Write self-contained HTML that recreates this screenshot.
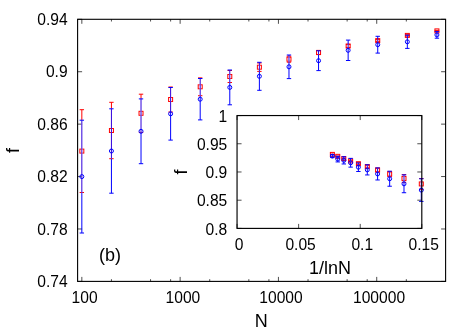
<!DOCTYPE html>
<html><head><meta charset="utf-8"><title>chart</title>
<style>html,body{margin:0;padding:0;background:#fff}svg{display:block;will-change:transform}text{font-family:"Liberation Sans",sans-serif;fill:#000}</style>
</head><body>
<svg width="474" height="332" viewBox="0 0 474 332">
<rect width="474" height="332" fill="#fff"/>
<rect x="77.6" y="19.3" width="368.00" height="262.10" fill="none" stroke="#000" stroke-width="1.1"/>
<path d="M81.84 281.4v-4.5M81.84 19.3v4.5M111.43 281.4v-2.2M111.43 19.3v2.2M150.55 281.4v-2.2M150.55 19.3v2.2M170.61 281.4v-2.2M170.61 19.3v2.2M180.14 281.4v-4.5M180.14 19.3v4.5M209.73 281.4v-2.2M209.73 19.3v2.2M248.84 281.4v-2.2M248.84 19.3v2.2M268.91 281.4v-2.2M268.91 19.3v2.2M278.43 281.4v-4.5M278.43 19.3v4.5M308.02 281.4v-2.2M308.02 19.3v2.2M347.14 281.4v-2.2M347.14 19.3v2.2M367.20 281.4v-2.2M367.20 19.3v2.2M376.73 281.4v-4.5M376.73 19.3v4.5M406.32 281.4v-2.2M406.32 19.3v2.2M77.6 281.40h4.5M445.6 281.40h-4.5M77.6 228.98h4.5M445.6 228.98h-4.5M77.6 176.56h4.5M445.6 176.56h-4.5M77.6 124.14h4.5M445.6 124.14h-4.5M77.6 71.72h4.5M445.6 71.72h-4.5M77.6 19.30h4.5M445.6 19.30h-4.5" stroke="#000" stroke-width="0.7" fill="none"/>
<rect x="237.05" y="115.55" width="184.75" height="112.85" fill="#fff" stroke="none"/>
<path d="M237.05 228.4v-4.5M237.05 115.55v4.5M298.63 228.4v-4.5M298.63 115.55v4.5M360.22 228.4v-4.5M360.22 115.55v4.5M421.80 228.4v-4.5M421.80 115.55v4.5M237.05 228.40h4.5M421.8 228.40h-4.5M237.05 200.19h4.5M421.8 200.19h-4.5M237.05 171.97h4.5M421.8 171.97h-4.5M237.05 143.76h4.5M421.8 143.76h-4.5M237.05 115.55h4.5M421.8 115.55h-4.5" stroke="#000" stroke-width="0.7" fill="none"/>
<path d="M81.84 109.70V120.20" stroke="#ff0000" stroke-width="1.0" fill="none"/><path d="M79.64 109.70h4.40" stroke="#ff0000" stroke-width="1.0" fill="none"/><path d="M79.64 192.50h4.40" stroke="#ff0000" stroke-width="1.0" fill="none"/><rect x="79.84" y="149.10" width="4.00" height="4.00" stroke="#ff0000" stroke-width="1" fill="none"/><path d="M81.84 120.20V192.50" stroke="#fff" stroke-width="1.0" fill="none"/><path d="M81.84 120.20V192.50" stroke="#3000dc" stroke-width="1.0" fill="none"/><path d="M81.84 192.50V233.00" stroke="#0000ff" stroke-width="1.0" fill="none"/><path d="M79.64 120.20h4.40" stroke="#0000ff" stroke-width="1.0" fill="none"/><path d="M79.64 233.00h4.40" stroke="#0000ff" stroke-width="1.0" fill="none"/><circle cx="81.84" cy="176.60" r="2.0" stroke="#0000ff" stroke-width="1" fill="none"/>
<path d="M111.43 102.30V108.80" stroke="#ff0000" stroke-width="1.0" fill="none"/><path d="M109.23 102.30h4.40" stroke="#ff0000" stroke-width="1.0" fill="none"/><path d="M109.23 158.70h4.40" stroke="#ff0000" stroke-width="1.0" fill="none"/><rect x="109.43" y="128.50" width="4.00" height="4.00" stroke="#ff0000" stroke-width="1" fill="none"/><path d="M111.43 108.80V158.70" stroke="#fff" stroke-width="1.0" fill="none"/><path d="M111.43 108.80V158.70" stroke="#3000dc" stroke-width="1.0" fill="none"/><path d="M111.43 158.70V193.20" stroke="#0000ff" stroke-width="1.0" fill="none"/><path d="M109.23 108.80h4.40" stroke="#0000ff" stroke-width="1.0" fill="none"/><path d="M109.23 193.20h4.40" stroke="#0000ff" stroke-width="1.0" fill="none"/><circle cx="111.43" cy="151.00" r="2.0" stroke="#0000ff" stroke-width="1" fill="none"/>
<path d="M141.02 94.20V98.90" stroke="#ff0000" stroke-width="1.0" fill="none"/><path d="M138.82 94.20h4.40" stroke="#ff0000" stroke-width="1.0" fill="none"/><path d="M138.82 132.40h4.40" stroke="#ff0000" stroke-width="1.0" fill="none"/><rect x="139.02" y="111.30" width="4.00" height="4.00" stroke="#ff0000" stroke-width="1" fill="none"/><path d="M141.02 98.90V132.40" stroke="#fff" stroke-width="1.0" fill="none"/><path d="M141.02 98.90V132.40" stroke="#3000dc" stroke-width="1.0" fill="none"/><path d="M141.02 132.40V163.70" stroke="#0000ff" stroke-width="1.0" fill="none"/><path d="M138.82 98.90h4.40" stroke="#0000ff" stroke-width="1.0" fill="none"/><path d="M138.82 163.70h4.40" stroke="#0000ff" stroke-width="1.0" fill="none"/><circle cx="141.02" cy="131.30" r="2.0" stroke="#0000ff" stroke-width="1" fill="none"/>
<path d="M170.61 87.00V87.50" stroke="#ff0000" stroke-width="1.0" fill="none"/><path d="M168.41 87.00h4.40" stroke="#ff0000" stroke-width="1.0" fill="none"/><path d="M168.41 112.00h4.40" stroke="#ff0000" stroke-width="1.0" fill="none"/><rect x="168.61" y="97.50" width="4.00" height="4.00" stroke="#ff0000" stroke-width="1" fill="none"/><path d="M170.61 87.50V112.00" stroke="#fff" stroke-width="1.0" fill="none"/><path d="M170.61 87.50V112.00" stroke="#3000dc" stroke-width="1.0" fill="none"/><path d="M170.61 112.00V140.10" stroke="#0000ff" stroke-width="1.0" fill="none"/><path d="M168.41 87.50h4.40" stroke="#0000ff" stroke-width="1.0" fill="none"/><path d="M168.41 140.10h4.40" stroke="#0000ff" stroke-width="1.0" fill="none"/><circle cx="170.61" cy="113.80" r="2.0" stroke="#0000ff" stroke-width="1" fill="none"/>
<path d="M200.20 77.90V78.50" stroke="#ff0000" stroke-width="1.0" fill="none"/><path d="M198.00 77.90h4.40" stroke="#ff0000" stroke-width="1.0" fill="none"/><path d="M198.00 95.70h4.40" stroke="#ff0000" stroke-width="1.0" fill="none"/><rect x="198.20" y="84.80" width="4.00" height="4.00" stroke="#ff0000" stroke-width="1" fill="none"/><path d="M200.20 78.50V95.70" stroke="#fff" stroke-width="1.0" fill="none"/><path d="M200.20 78.50V95.70" stroke="#3000dc" stroke-width="1.0" fill="none"/><path d="M200.20 95.70V119.90" stroke="#0000ff" stroke-width="1.0" fill="none"/><path d="M198.00 78.50h4.40" stroke="#0000ff" stroke-width="1.0" fill="none"/><path d="M198.00 119.90h4.40" stroke="#0000ff" stroke-width="1.0" fill="none"/><circle cx="200.20" cy="99.20" r="2.0" stroke="#0000ff" stroke-width="1" fill="none"/>
<path d="M227.59 70.50h4.40" stroke="#ff0000" stroke-width="1.0" fill="none"/><path d="M227.59 82.50h4.40" stroke="#ff0000" stroke-width="1.0" fill="none"/><rect x="227.79" y="74.50" width="4.00" height="4.00" stroke="#ff0000" stroke-width="1" fill="none"/><path d="M229.79 70.50V82.50" stroke="#fff" stroke-width="1.0" fill="none"/><path d="M229.79 70.50V82.50" stroke="#3000dc" stroke-width="1.0" fill="none"/><path d="M229.79 70.00V70.50" stroke="#0000ff" stroke-width="1.0" fill="none"/><path d="M229.79 82.50V104.80" stroke="#0000ff" stroke-width="1.0" fill="none"/><path d="M227.59 70.00h4.40" stroke="#0000ff" stroke-width="1.0" fill="none"/><path d="M227.59 104.80h4.40" stroke="#0000ff" stroke-width="1.0" fill="none"/><circle cx="229.79" cy="87.40" r="2.0" stroke="#0000ff" stroke-width="1" fill="none"/>
<path d="M257.18 63.00h4.40" stroke="#ff0000" stroke-width="1.0" fill="none"/><path d="M257.18 71.40h4.40" stroke="#ff0000" stroke-width="1.0" fill="none"/><rect x="257.38" y="65.20" width="4.00" height="4.00" stroke="#ff0000" stroke-width="1" fill="none"/><path d="M259.38 63.00V71.40" stroke="#fff" stroke-width="1.0" fill="none"/><path d="M259.38 63.00V71.40" stroke="#3000dc" stroke-width="1.0" fill="none"/><path d="M259.38 62.30V63.00" stroke="#0000ff" stroke-width="1.0" fill="none"/><path d="M259.38 71.40V90.30" stroke="#0000ff" stroke-width="1.0" fill="none"/><path d="M257.18 62.30h4.40" stroke="#0000ff" stroke-width="1.0" fill="none"/><path d="M257.18 90.30h4.40" stroke="#0000ff" stroke-width="1.0" fill="none"/><circle cx="259.38" cy="76.30" r="2.0" stroke="#0000ff" stroke-width="1" fill="none"/>
<path d="M286.77 56.20h4.40" stroke="#ff0000" stroke-width="1.0" fill="none"/><path d="M286.77 62.20h4.40" stroke="#ff0000" stroke-width="1.0" fill="none"/><rect x="286.97" y="57.20" width="4.00" height="4.00" stroke="#ff0000" stroke-width="1" fill="none"/><path d="M288.97 56.20V62.20" stroke="#fff" stroke-width="1.0" fill="none"/><path d="M288.97 56.20V62.20" stroke="#3000dc" stroke-width="1.0" fill="none"/><path d="M288.97 55.00V56.20" stroke="#0000ff" stroke-width="1.0" fill="none"/><path d="M288.97 62.20V78.60" stroke="#0000ff" stroke-width="1.0" fill="none"/><path d="M286.77 55.00h4.40" stroke="#0000ff" stroke-width="1.0" fill="none"/><path d="M286.77 78.60h4.40" stroke="#0000ff" stroke-width="1.0" fill="none"/><circle cx="288.97" cy="66.80" r="2.0" stroke="#0000ff" stroke-width="1" fill="none"/>
<path d="M318.56 50.40V50.80" stroke="#ff0000" stroke-width="1.0" fill="none"/><path d="M316.36 50.40h4.40" stroke="#ff0000" stroke-width="1.0" fill="none"/><path d="M316.36 54.60h4.40" stroke="#ff0000" stroke-width="1.0" fill="none"/><rect x="316.56" y="50.50" width="4.00" height="4.00" stroke="#ff0000" stroke-width="1" fill="none"/><path d="M318.56 50.80V54.60" stroke="#fff" stroke-width="1.0" fill="none"/><path d="M318.56 50.80V54.60" stroke="#3000dc" stroke-width="1.0" fill="none"/><path d="M318.56 54.60V70.60" stroke="#0000ff" stroke-width="1.0" fill="none"/><path d="M316.36 50.80h4.40" stroke="#0000ff" stroke-width="1.0" fill="none"/><path d="M316.36 70.60h4.40" stroke="#0000ff" stroke-width="1.0" fill="none"/><circle cx="318.56" cy="60.70" r="2.0" stroke="#0000ff" stroke-width="1" fill="none"/>
<path d="M345.95 44.50h4.40" stroke="#ff0000" stroke-width="1.0" fill="none"/><path d="M345.95 47.50h4.40" stroke="#ff0000" stroke-width="1.0" fill="none"/><rect x="346.15" y="44.00" width="4.00" height="4.00" stroke="#ff0000" stroke-width="1" fill="none"/><path d="M348.15 44.50V47.50" stroke="#fff" stroke-width="1.0" fill="none"/><path d="M348.15 44.50V47.50" stroke="#3000dc" stroke-width="1.0" fill="none"/><path d="M348.15 40.10V44.50" stroke="#0000ff" stroke-width="1.0" fill="none"/><path d="M348.15 47.50V60.50" stroke="#0000ff" stroke-width="1.0" fill="none"/><path d="M345.95 40.10h4.40" stroke="#0000ff" stroke-width="1.0" fill="none"/><path d="M345.95 60.50h4.40" stroke="#0000ff" stroke-width="1.0" fill="none"/><circle cx="348.15" cy="50.30" r="2.0" stroke="#0000ff" stroke-width="1" fill="none"/>
<path d="M375.54 39.60h4.40" stroke="#ff0000" stroke-width="1.0" fill="none"/><path d="M375.54 41.60h4.40" stroke="#ff0000" stroke-width="1.0" fill="none"/><rect x="375.74" y="38.60" width="4.00" height="4.00" stroke="#ff0000" stroke-width="1" fill="none"/><path d="M377.74 39.60V41.60" stroke="#fff" stroke-width="1.0" fill="none"/><path d="M377.74 39.60V41.60" stroke="#3000dc" stroke-width="1.0" fill="none"/><path d="M377.74 36.30V39.60" stroke="#0000ff" stroke-width="1.0" fill="none"/><path d="M377.74 41.60V53.10" stroke="#0000ff" stroke-width="1.0" fill="none"/><path d="M375.54 36.30h4.40" stroke="#0000ff" stroke-width="1.0" fill="none"/><path d="M375.54 53.10h4.40" stroke="#0000ff" stroke-width="1.0" fill="none"/><circle cx="377.74" cy="44.70" r="2.0" stroke="#0000ff" stroke-width="1" fill="none"/>
<path d="M407.33 34.70V35.20" stroke="#ff0000" stroke-width="1.0" fill="none"/><path d="M405.13 34.70h4.40" stroke="#ff0000" stroke-width="1.0" fill="none"/><path d="M405.13 36.10h4.40" stroke="#ff0000" stroke-width="1.0" fill="none"/><rect x="405.33" y="33.40" width="4.00" height="4.00" stroke="#ff0000" stroke-width="1" fill="none"/><path d="M407.33 35.20V36.10" stroke="#fff" stroke-width="1.0" fill="none"/><path d="M407.33 35.20V36.10" stroke="#3000dc" stroke-width="1.0" fill="none"/><path d="M407.33 36.10V48.40" stroke="#0000ff" stroke-width="1.0" fill="none"/><path d="M405.13 35.20h4.40" stroke="#0000ff" stroke-width="1.0" fill="none"/><path d="M405.13 48.40h4.40" stroke="#0000ff" stroke-width="1.0" fill="none"/><circle cx="407.33" cy="41.80" r="2.0" stroke="#0000ff" stroke-width="1" fill="none"/>
<path d="M436.92 30.40V31.40" stroke="#ff0000" stroke-width="1.0" fill="none"/><path d="M434.72 30.40h4.40" stroke="#ff0000" stroke-width="1.0" fill="none"/><path d="M434.72 31.40h4.40" stroke="#ff0000" stroke-width="1.0" fill="none"/><rect x="434.92" y="28.90" width="4.00" height="4.00" stroke="#ff0000" stroke-width="1" fill="none"/><path d="M436.92 31.60V38.20" stroke="#0000ff" stroke-width="1.0" fill="none"/><path d="M434.72 31.60h4.40" stroke="#0000ff" stroke-width="1.0" fill="none"/><path d="M434.72 38.20h4.40" stroke="#0000ff" stroke-width="1.0" fill="none"/><circle cx="436.92" cy="34.90" r="2.0" stroke="#0000ff" stroke-width="1" fill="none"/>
<path d="M421.30 178.55V178.77" stroke="#ff0000" stroke-width="1.0" fill="none"/><path d="M419.10 178.55h4.40" stroke="#ff0000" stroke-width="1.0" fill="none"/><path d="M419.10 189.32h4.40" stroke="#ff0000" stroke-width="1.0" fill="none"/><rect x="419.30" y="181.94" width="4.00" height="4.00" stroke="#ff0000" stroke-width="1" fill="none"/><path d="M421.30 178.77V189.32" stroke="#fff" stroke-width="1.0" fill="none"/><path d="M421.30 178.77V189.32" stroke="#3000dc" stroke-width="1.0" fill="none"/><path d="M421.30 189.32V201.42" stroke="#0000ff" stroke-width="1.0" fill="none"/><path d="M419.10 178.77h4.40" stroke="#0000ff" stroke-width="1.0" fill="none"/><path d="M419.10 201.42h4.40" stroke="#0000ff" stroke-width="1.0" fill="none"/><circle cx="421.30" cy="190.09" r="2.0" stroke="#0000ff" stroke-width="1" fill="none"/>
<path d="M403.99 174.64V174.89" stroke="#ff0000" stroke-width="1.0" fill="none"/><path d="M401.79 174.64h4.40" stroke="#ff0000" stroke-width="1.0" fill="none"/><path d="M401.79 182.30h4.40" stroke="#ff0000" stroke-width="1.0" fill="none"/><rect x="401.99" y="176.47" width="4.00" height="4.00" stroke="#ff0000" stroke-width="1" fill="none"/><path d="M403.99 174.89V182.30" stroke="#fff" stroke-width="1.0" fill="none"/><path d="M403.99 174.89V182.30" stroke="#3000dc" stroke-width="1.0" fill="none"/><path d="M403.99 182.30V192.72" stroke="#0000ff" stroke-width="1.0" fill="none"/><path d="M401.79 174.89h4.40" stroke="#0000ff" stroke-width="1.0" fill="none"/><path d="M401.79 192.72h4.40" stroke="#0000ff" stroke-width="1.0" fill="none"/><circle cx="403.99" cy="183.81" r="2.0" stroke="#0000ff" stroke-width="1" fill="none"/>
<path d="M387.46 171.45h4.40" stroke="#ff0000" stroke-width="1.0" fill="none"/><path d="M387.46 176.62h4.40" stroke="#ff0000" stroke-width="1.0" fill="none"/><rect x="387.66" y="172.03" width="4.00" height="4.00" stroke="#ff0000" stroke-width="1" fill="none"/><path d="M389.66 171.45V176.62" stroke="#fff" stroke-width="1.0" fill="none"/><path d="M389.66 171.45V176.62" stroke="#3000dc" stroke-width="1.0" fill="none"/><path d="M389.66 171.23V171.45" stroke="#0000ff" stroke-width="1.0" fill="none"/><path d="M389.66 176.62V186.22" stroke="#0000ff" stroke-width="1.0" fill="none"/><path d="M387.46 171.23h4.40" stroke="#0000ff" stroke-width="1.0" fill="none"/><path d="M387.46 186.22h4.40" stroke="#0000ff" stroke-width="1.0" fill="none"/><circle cx="389.66" cy="178.73" r="2.0" stroke="#0000ff" stroke-width="1" fill="none"/>
<path d="M375.39 168.22h4.40" stroke="#ff0000" stroke-width="1.0" fill="none"/><path d="M375.39 171.84h4.40" stroke="#ff0000" stroke-width="1.0" fill="none"/><rect x="375.59" y="168.03" width="4.00" height="4.00" stroke="#ff0000" stroke-width="1" fill="none"/><path d="M377.59 168.22V171.84" stroke="#fff" stroke-width="1.0" fill="none"/><path d="M377.59 168.22V171.84" stroke="#3000dc" stroke-width="1.0" fill="none"/><path d="M377.59 167.92V168.22" stroke="#0000ff" stroke-width="1.0" fill="none"/><path d="M377.59 171.84V179.97" stroke="#0000ff" stroke-width="1.0" fill="none"/><path d="M375.39 167.92h4.40" stroke="#0000ff" stroke-width="1.0" fill="none"/><path d="M375.39 179.97h4.40" stroke="#0000ff" stroke-width="1.0" fill="none"/><circle cx="377.59" cy="173.95" r="2.0" stroke="#0000ff" stroke-width="1" fill="none"/>
<path d="M365.09 165.29h4.40" stroke="#ff0000" stroke-width="1.0" fill="none"/><path d="M365.09 167.88h4.40" stroke="#ff0000" stroke-width="1.0" fill="none"/><rect x="365.29" y="164.58" width="4.00" height="4.00" stroke="#ff0000" stroke-width="1" fill="none"/><path d="M367.29 165.29V167.88" stroke="#fff" stroke-width="1.0" fill="none"/><path d="M367.29 165.29V167.88" stroke="#3000dc" stroke-width="1.0" fill="none"/><path d="M367.29 164.78V165.29" stroke="#0000ff" stroke-width="1.0" fill="none"/><path d="M367.29 167.88V174.94" stroke="#0000ff" stroke-width="1.0" fill="none"/><path d="M365.09 164.78h4.40" stroke="#0000ff" stroke-width="1.0" fill="none"/><path d="M365.09 174.94h4.40" stroke="#0000ff" stroke-width="1.0" fill="none"/><circle cx="367.29" cy="169.86" r="2.0" stroke="#0000ff" stroke-width="1" fill="none"/>
<path d="M358.39 162.80V162.97" stroke="#ff0000" stroke-width="1.0" fill="none"/><path d="M356.19 162.80h4.40" stroke="#ff0000" stroke-width="1.0" fill="none"/><path d="M356.19 164.60h4.40" stroke="#ff0000" stroke-width="1.0" fill="none"/><rect x="356.39" y="161.70" width="4.00" height="4.00" stroke="#ff0000" stroke-width="1" fill="none"/><path d="M358.39 162.97V164.60" stroke="#fff" stroke-width="1.0" fill="none"/><path d="M358.39 162.97V164.60" stroke="#3000dc" stroke-width="1.0" fill="none"/><path d="M358.39 164.60V171.49" stroke="#0000ff" stroke-width="1.0" fill="none"/><path d="M356.19 162.97h4.40" stroke="#0000ff" stroke-width="1.0" fill="none"/><path d="M356.19 171.49h4.40" stroke="#0000ff" stroke-width="1.0" fill="none"/><circle cx="358.39" cy="167.23" r="2.0" stroke="#0000ff" stroke-width="1" fill="none"/>
<path d="M348.44 160.26h4.40" stroke="#ff0000" stroke-width="1.0" fill="none"/><path d="M348.44 161.55h4.40" stroke="#ff0000" stroke-width="1.0" fill="none"/><rect x="348.64" y="158.90" width="4.00" height="4.00" stroke="#ff0000" stroke-width="1" fill="none"/><path d="M350.64 160.26V161.55" stroke="#fff" stroke-width="1.0" fill="none"/><path d="M350.64 160.26V161.55" stroke="#3000dc" stroke-width="1.0" fill="none"/><path d="M350.64 158.36V160.26" stroke="#0000ff" stroke-width="1.0" fill="none"/><path d="M350.64 161.55V167.14" stroke="#0000ff" stroke-width="1.0" fill="none"/><path d="M348.44 158.36h4.40" stroke="#0000ff" stroke-width="1.0" fill="none"/><path d="M348.44 167.14h4.40" stroke="#0000ff" stroke-width="1.0" fill="none"/><circle cx="350.64" cy="162.75" r="2.0" stroke="#0000ff" stroke-width="1" fill="none"/>
<path d="M341.61 158.15h4.40" stroke="#ff0000" stroke-width="1.0" fill="none"/><path d="M341.61 159.01h4.40" stroke="#ff0000" stroke-width="1.0" fill="none"/><rect x="341.81" y="156.58" width="4.00" height="4.00" stroke="#ff0000" stroke-width="1" fill="none"/><path d="M343.81 158.15V159.01" stroke="#fff" stroke-width="1.0" fill="none"/><path d="M343.81 158.15V159.01" stroke="#3000dc" stroke-width="1.0" fill="none"/><path d="M343.81 156.72V158.15" stroke="#0000ff" stroke-width="1.0" fill="none"/><path d="M343.81 159.01V163.96" stroke="#0000ff" stroke-width="1.0" fill="none"/><path d="M341.61 156.72h4.40" stroke="#0000ff" stroke-width="1.0" fill="none"/><path d="M341.61 163.96h4.40" stroke="#0000ff" stroke-width="1.0" fill="none"/><circle cx="343.81" cy="160.34" r="2.0" stroke="#0000ff" stroke-width="1" fill="none"/>
<path d="M337.76 156.04V156.25" stroke="#ff0000" stroke-width="1.0" fill="none"/><path d="M335.56 156.04h4.40" stroke="#ff0000" stroke-width="1.0" fill="none"/><path d="M335.56 156.64h4.40" stroke="#ff0000" stroke-width="1.0" fill="none"/><rect x="335.76" y="154.34" width="4.00" height="4.00" stroke="#ff0000" stroke-width="1" fill="none"/><path d="M337.76 156.25V156.64" stroke="#fff" stroke-width="1.0" fill="none"/><path d="M337.76 156.25V156.64" stroke="#3000dc" stroke-width="1.0" fill="none"/><path d="M337.76 156.64V161.93" stroke="#0000ff" stroke-width="1.0" fill="none"/><path d="M335.56 156.25h4.40" stroke="#0000ff" stroke-width="1.0" fill="none"/><path d="M335.56 161.93h4.40" stroke="#0000ff" stroke-width="1.0" fill="none"/><circle cx="337.76" cy="159.09" r="2.0" stroke="#0000ff" stroke-width="1" fill="none"/>
<path d="M332.36 154.18V154.61" stroke="#ff0000" stroke-width="1.0" fill="none"/><path d="M330.16 154.18h4.40" stroke="#ff0000" stroke-width="1.0" fill="none"/><path d="M330.16 154.61h4.40" stroke="#ff0000" stroke-width="1.0" fill="none"/><rect x="330.36" y="152.40" width="4.00" height="4.00" stroke="#ff0000" stroke-width="1" fill="none"/><path d="M332.36 154.70V157.54" stroke="#0000ff" stroke-width="1.0" fill="none"/><path d="M330.16 154.70h4.40" stroke="#0000ff" stroke-width="1.0" fill="none"/><path d="M330.16 157.54h4.40" stroke="#0000ff" stroke-width="1.0" fill="none"/><circle cx="332.36" cy="156.12" r="2.0" stroke="#0000ff" stroke-width="1" fill="none"/>
<rect x="237.05" y="115.55" width="184.75" height="112.85" fill="none" stroke="#000" stroke-width="1.15"/>
<text x="67.6" y="287.0" font-size="15.6" text-anchor="end" >0.74</text>
<text x="67.6" y="234.58" font-size="15.6" text-anchor="end" >0.78</text>
<text x="67.6" y="182.16" font-size="15.6" text-anchor="end" >0.82</text>
<text x="67.6" y="129.74" font-size="15.6" text-anchor="end" >0.86</text>
<text x="67.6" y="77.32" font-size="15.6" text-anchor="end" >0.9</text>
<text x="67.6" y="24.9" font-size="15.6" text-anchor="end" >0.94</text>
<text x="84.55" y="303.2" font-size="15.6" text-anchor="middle" >100</text>
<text x="182.9" y="303.2" font-size="15.6" text-anchor="middle" >1000</text>
<text x="281.0" y="303.2" font-size="15.6" text-anchor="middle" >10000</text>
<text x="379.05" y="303.2" font-size="15.6" text-anchor="middle" >100000</text>
<text x="261.2" y="326.6" font-size="18" text-anchor="middle" >N</text>
<text x="110" y="261.1" font-size="18" text-anchor="middle" >(b)</text>
<text transform="translate(19.1,150.5) rotate(-90)" font-size="18" text-anchor="middle">f</text>
<text x="227.3" y="234.5" font-size="15.6" text-anchor="end" >0.8</text>
<text x="227.3" y="206.29" font-size="15.6" text-anchor="end" >0.85</text>
<text x="227.3" y="178.07" font-size="15.6" text-anchor="end" >0.9</text>
<text x="227.3" y="149.86" font-size="15.6" text-anchor="end" >0.95</text>
<text x="227.3" y="121.65" font-size="15.6" text-anchor="end" >1</text>
<text x="239.05" y="250" font-size="15.6" text-anchor="middle" >0</text>
<text x="300.63" y="250" font-size="15.6" text-anchor="middle" >0.05</text>
<text x="362.22" y="250" font-size="15.6" text-anchor="middle" >0.1</text>
<text x="423.8" y="250" font-size="15.6" text-anchor="middle" >0.15</text>
<text x="330" y="274.2" font-size="18" text-anchor="middle" >1/lnN</text>
<text transform="translate(187.1,172) rotate(-90)" font-size="18" text-anchor="middle">f</text>
</svg>
</body></html>
